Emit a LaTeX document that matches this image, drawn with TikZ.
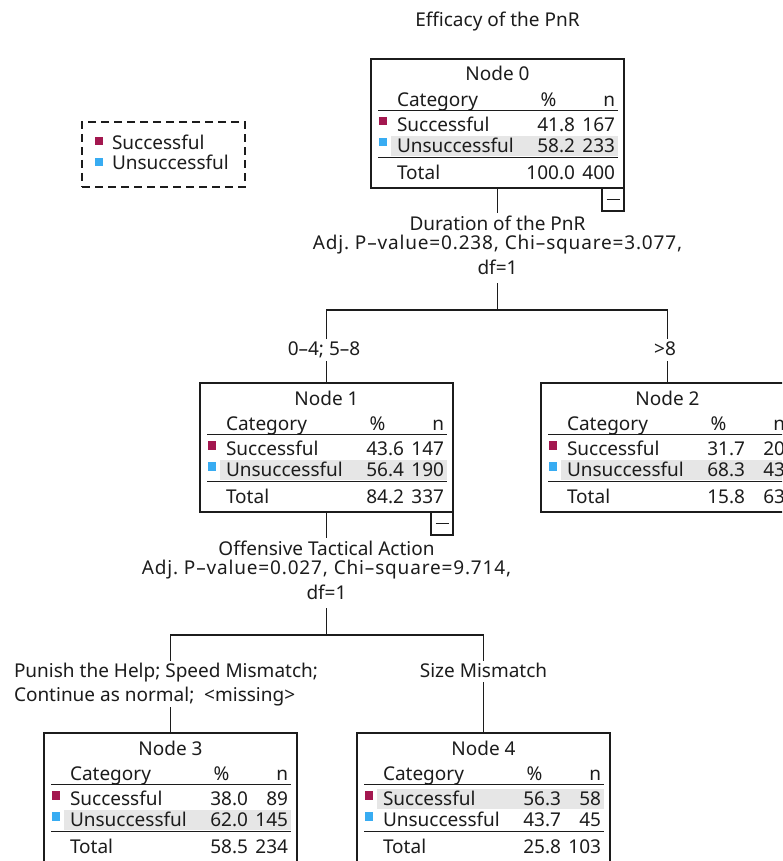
\documentclass[tikz,border=0pt]{standalone}
\usepackage{fontspec}
\setmainfont{Noto Sans}
\usetikzlibrary{calc}
\definecolor{succcol}{HTML}{A3174F}
\definecolor{unsucccol}{HTML}{38ACF2}
\definecolor{hlcol}{HTML}{E6E6E6}
\definecolor{ink}{HTML}{1C1C1C}
\newcommand\treefs{\fontsize{19}{22}\selectfont\frenchspacing}
\newcommand\widetxt{\addfontfeature{LetterSpace=4.4}}
\tikzset{
  txt/.style={inner sep=0pt, outer sep=0pt, font=\treefs, text=ink},
  widetext/.style={txt, font=\treefs\widetxt},
  boxframe/.style={draw=ink, line width=1.2pt, inner sep=0pt, outer sep=0pt, minimum width=253pt, minimum height=129pt},
  minusbox/.style={draw=ink, line width=1.2pt, inner sep=0pt, outer sep=0pt, minimum width=22pt, minimum height=23pt},
  rulethin/.style={draw=ink, line width=1pt},
  rulethick/.style={draw=ink, line width=1.8pt},
  conn/.style={draw=ink, line width=1.2pt},
  labtop/.style={txt, text height=16pt, text depth=6pt},
  legendbox/.style={draw=ink, line width=1.2pt, dash pattern=on 8pt off 5pt, inner sep=0pt, minimum width=163pt, minimum height=65pt}
}
% #1 number, #2 L,T, #3 grey row offset, #4 succ %, #5 succ n, #6 unsucc %, #7 unsucc n, #8 total %, #9 total n
\newcommand\TreeBox[9]{%
  \begin{scope}[shift={(#2)}]
    \fill[hlcol] (20,#3) rectangle (247,#3+20);
    \node[boxframe] (node#1) at (126.5,64.5) {};
    \node[txt,anchor=base] (node#1-title) at (126.5,22) {Node #1};
    \node[txt,anchor=base west] (node#1-cat) at (26,47.5) {Category};
    \node[txt,anchor=base] (node#1-pcthead) at (177.5,47.5) {\%};
    \node[txt,anchor=base east] (node#1-nhead) at (244,47.5) {n};
    \draw[rulethin] (7,51.5) -- (247,51.5);
    \fill[succcol] (7.5,58) rectangle (16,66.5);
    \node[txt,anchor=base west] (node#1-s) at (26,72.7) {Successful};
    \node[txt,anchor=base east] (node#1-sp) at (204,72.7) {#4};
    \node[txt,anchor=base east] (node#1-sn) at (244,72.7) {#5};
    \fill[unsucccol] (7.5,79) rectangle (16,87.5);
    \node[txt,anchor=base west] (node#1-u) at (26,93.7) {Unsuccessful};
    \node[txt,anchor=base east] (node#1-up) at (204,93.7) {#6};
    \node[txt,anchor=base east] (node#1-un) at (244,93.7) {#7};
    \draw[rulethick] (7,98.5) -- (247,98.5);
    \node[txt,anchor=base west] (node#1-t) at (26,120) {Total};
    \node[txt,anchor=base east] (node#1-tp) at (204,120) {#8};
    \node[txt,anchor=base east] (node#1-tn) at (244,120) {#9};
  \end{scope}}
\newcommand\MinusBtn[1]{%
  \node[minusbox, anchor=north east] (node#1-minus) at (node#1.south east) {};
  \draw[conn] ($(node#1-minus.center)+(-6.5,0)$) -- ($(node#1-minus.center)+(6.5,0)$);}
\begin{document}
\begin{tikzpicture}[x=1pt,y=-1pt]
  \useasboundingbox (0,0) rectangle (782,861);
  \fill[white] (0,0) rectangle (782,861);
  \clip (0,0) rectangle (782,861);

  % title
  \node[txt,anchor=base] (title) at (497.5,27) {Efficacy of the PnR};

  % legend
  \node[legendbox] (legend) at (163.5,154.5) {};
  \fill[succcol] (94.5,137) rectangle (103,145.5);
  \node[txt,anchor=base west] (legS) at (112,150) {Successful};
  \fill[unsucccol] (94.5,158) rectangle (103,166.5);
  \node[txt,anchor=base west] (legU) at (112,170) {Unsuccessful};

  % tree nodes
  \TreeBox{0}{371,59}{77}{41.8}{167}{58.2}{233}{100.0}{400}
  \MinusBtn{0}
  \TreeBox{1}{200,383}{77}{43.6}{147}{56.4}{190}{84.2}{337}
  \MinusBtn{1}
  \TreeBox{2}{541,383}{77}{31.7}{20}{68.3}{43}{15.8}{63}
  \TreeBox{3}{44,733}{77}{38.0}{89}{62.0}{145}{58.5}{234}
  \TreeBox{4}{357,733}{56}{56.3}{58}{43.7}{45}{25.8}{103}

  % first split
  \node[txt,anchor=base,text height=17.7pt] (d0a) at (497.5,230.7) {Duration of the PnR};
  \node[widetext,anchor=base] (d0b) at (497.5,249.3) {Adj. P–value=0.238, Chi–square=3.077,};
  \node[txt,anchor=base,text depth=9pt] (d0c) at (497.5,274) {df=1};
  \coordinate (bar0) at (497.5,310);
  \node[labtop,anchor=base] (lab1) at (324,355) {0–4; 5–8};
  \node[labtop,anchor=base] (lab2) at (665,355) {>8};
  \draw[conn] (node0.south) -- (d0a.north);
  \draw[conn] (d0c.south) -- (bar0);
  \draw[conn] (node1.north |- lab1.north) |- (bar0) -| (node2.north |- lab2.north);
  \draw[conn] (node1.north |- lab1.south) -- (node1.north);
  \draw[conn] (node2.north |- lab2.south) -- (node2.north);

  % second split
  \node[txt,anchor=base,text height=17.7pt] (d1a) at (326.5,555.7) {Offensive Tactical Action};
  \node[widetext,anchor=base] (d1b) at (326.5,574.3) {Adj. P–value=0.027, Chi–square=9.714,};
  \node[txt,anchor=base,text depth=9pt] (d1c) at (326.5,599) {df=1};
  \coordinate (bar1) at (326.5,635);
  \node[txt,anchor=base west,text height=16pt] (lab3a) at (14,677) {Punish the Help; Speed Mismatch;};
  \node[txt,anchor=base west,text depth=6pt] (lab3b) at (14,701) {Continue as normal;\ \ <missing>};
  \node[txt,anchor=base,text height=16pt,text depth=5pt] (lab4) at (483.5,677) {Size Mismatch};
  \draw[conn] (node1.south) -- (d1a.north);
  \draw[conn] (d1c.south) -- (bar1);
  \draw[conn] (node3.north |- lab3a.north) |- (bar1) -| (node4.north |- lab4.north);
  \draw[conn] (node3.north |- lab3b.south) -- (node3.north);
  \draw[conn] (node4.north |- lab4.south) -- (node4.north);
\end{tikzpicture}
\end{document}
